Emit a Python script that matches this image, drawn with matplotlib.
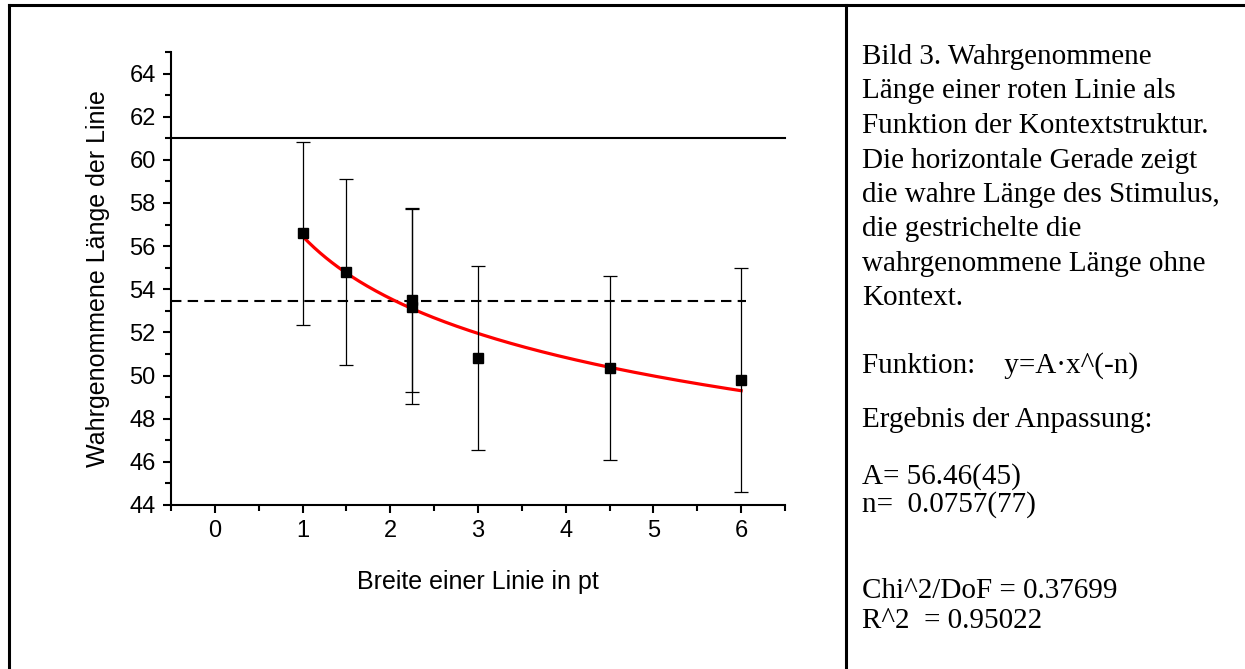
import numpy as np
import matplotlib
matplotlib.use("Agg")
import matplotlib.pyplot as plt
from matplotlib.lines import Line2D
from matplotlib.ticker import MultipleLocator

# ---------------- data ----------------
x_vals = [1.0, 1.5, 2.25, 2.25, 3.0, 4.5, 6.0]
y_vals = [56.6, 54.8, 53.5, 53.2, 50.8, 50.35, 49.8]
y_err = [4.25, 4.3, 4.27, 4.5, 4.27, 4.27, 5.2]

true_length = 61.0          # horizontal solid line
no_context_length = 53.45   # dashed line
dashed_x_range = [-0.5, 6.05]

fit_A = 56.46
fit_n = 0.0757
fit_x_range = [1.0, 6.0]

x_ticks = [0, 1, 2, 3, 4, 5, 6]
y_ticks = [44, 46, 48, 50, 52, 54, 56, 58, 60, 62, 64]

caption_lines = [
    "Bild 3. Wahrgenommene",
    "Länge einer roten Linie als",
    "Funktion der Kontextstruktur.",
    "Die horizontale Gerade zeigt",
    "die wahre Länge des Stimulus,",
    "die gestrichelte die",
    "wahrgenommene Länge ohne",
    "Kontext.",
]
result_lines = [
    "Funktion:    y=A·x^(-n)",
    "Ergebnis der Anpassung:",
    "A= 56.46(45)",
    "n=  0.0757(77)",
    "Chi^2/DoF = 0.37699",
    "R^2  = 0.95022",
]

# ---------------- figure ----------------
W, H = 1245, 669
fig = plt.figure(figsize=(W / 100, H / 100), dpi=100)
fig.patch.set_facecolor("white")

def fx(px):
    return px / W

def fy(py):
    return 1 - py / H

# outer frame and divider
frame_lw = 2.2
fig.add_artist(Line2D([fx(9), 1.0], [fy(5), fy(5)], color="black", lw=frame_lw, transform=fig.transFigure))
fig.add_artist(Line2D([fx(9), fx(9)], [fy(5), 0.0], color="black", lw=frame_lw, transform=fig.transFigure))
fig.add_artist(Line2D([fx(846), fx(846)], [fy(5), 0.0], color="black", lw=frame_lw, transform=fig.transFigure))

# axes
ax_l, ax_r, ax_t, ax_b = 171, 785, 52, 505
ax = fig.add_axes([fx(ax_l), fy(ax_b), (ax_r - ax_l) / W, (ax_b - ax_t) / H])
ax.set_xlim(-0.5, 6.5)
ax.set_ylim(44, 65)

for s in ["top", "right"]:
    ax.spines[s].set_visible(False)
for s in ["left", "bottom"]:
    ax.spines[s].set_linewidth(1.5)

ax.set_xticks(x_ticks)
ax.xaxis.set_minor_locator(MultipleLocator(0.5))
ax.set_yticks(y_ticks)
ax.yaxis.set_minor_locator(MultipleLocator(1))
ax.tick_params(which="major", direction="out", length=6, width=1.5, labelsize=17, pad=5)
ax.tick_params(which="minor", direction="out", length=4, width=1.5)

arial = "Liberation Sans"
for lab in ax.get_xticklabels() + ax.get_yticklabels():
    lab.set_fontfamily(arial)

ax.set_xlabel("Breite einer Linie in pt", fontsize=18, fontfamily=arial, labelpad=20)
ax.set_ylabel("Wahrgenommene Länge der Linie", fontsize=18, fontfamily=arial, labelpad=14)

# reference lines
ax.plot([-0.5, 6.5], [true_length, true_length], color="black", lw=1.5, clip_on=False)
ax.plot(dashed_x_range, [no_context_length, no_context_length], color="black", lw=1.5,
        linestyle=(0, (5, 3)))

# fit curve
xf = np.linspace(fit_x_range[0], fit_x_range[1], 300)
ax.plot(xf, fit_A * xf ** (-fit_n), color="red", lw=2.3, zorder=3)

# data points with error bars
ax.errorbar(x_vals, y_vals, yerr=y_err, fmt="s", color="black", ecolor="black",
            elinewidth=0.9, capsize=5, capthick=0.9, markersize=7, zorder=4)

# right-hand text
serif = "Liberation Serif"
tx = fx(862)
cap_baselines = [64, 98.5, 133, 167.5, 202, 236.5, 271, 305.5]
for line, yb in zip(caption_lines, cap_baselines):
    fig.text(tx, fy(yb), line, fontsize=21, fontfamily=serif, va="baseline", ha="left")

res_baselines = [373, 427, 484, 512, 598, 628]
for line, yb in zip(result_lines, res_baselines):
    fig.text(tx, fy(yb), line, fontsize=21, fontfamily=serif, va="baseline", ha="left")

fig.savefig("out.png", dpi=100, facecolor="white")
